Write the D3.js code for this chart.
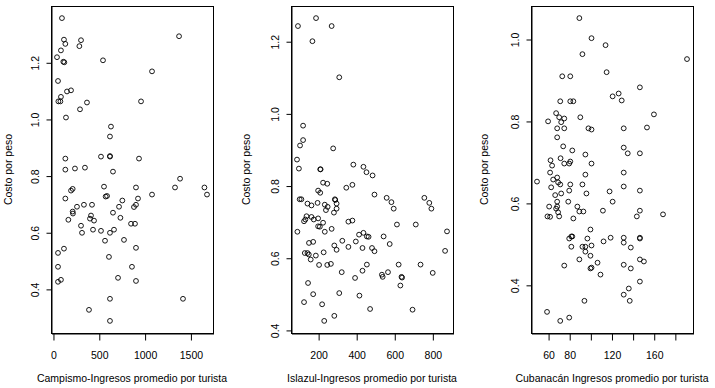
<!DOCTYPE html>
<html>
<head>
<meta charset="utf-8">
<script src="https://cdn.jsdelivr.net/npm/d3@7"></script>
<style>
body { margin: 0; background: #fff; }
svg text { font-family: "Liberation Sans", Arial, sans-serif; font-size: 10.5px; fill: #000; }
</style>
</head>
<body>
<div id="chart"></div>
<script>
// values

var campismoX = [98, 120, 135, 87, 306, 288, 44, 113, 124, 546, 1376, 1081, 55, 153, 197, 87, 59, 81, 371, 295,
    961, 142, 633, 622, 524, 622, 622, 135, 939, 135, 240, 349, 655, 1387, 557, 906, 1332, 1653, 1681, 1081,
    197, 215, 575, 590, 135, 262, 338, 426, 721, 757, 928, 906, 884, 215, 218, 655, 415, 168, 404, 448,
    736, 306, 852, 895, 317, 437, 524, 622, 666, 568, 775, 55, 120, 906, 611, 55, 862, 55, 87, 710,
    906, 622, 1419, 393, 622];
var campismoY = [1.356, 1.280, 1.265, 1.242, 1.278, 1.257, 1.218, 1.202, 1.200, 1.207, 1.292, 1.168, 1.134, 1.097, 1.101, 1.078, 1.062, 1.062, 1.058, 1.034,
    1.062, 1.005, 0.973, 0.938, 0.867, 0.869, 0.867, 0.860, 0.860, 0.821, 0.825, 0.828, 0.814, 0.789, 0.761, 0.758, 0.758, 0.758, 0.733, 0.733,
    0.747, 0.753, 0.726, 0.728, 0.719, 0.690, 0.697, 0.697, 0.690, 0.712, 0.719, 0.697, 0.689, 0.673, 0.666, 0.669, 0.659, 0.644, 0.648, 0.641,
    0.651, 0.623, 0.630, 0.630, 0.598, 0.609, 0.605, 0.598, 0.609, 0.570, 0.573, 0.527, 0.542, 0.545, 0.513, 0.478, 0.478, 0.425, 0.432, 0.439,
    0.428, 0.365, 0.365, 0.326, 0.287];

var islazulX = [94, 189, 271, 170, 311, 121, 121, 105, 279, 89, 99, 211, 213, 385, 438, 454, 486, 226, 248, 348,
    380, 200, 211, 496, 560, 585, 597, 614, 713, 758, 784, 795, 103, 112, 144, 165, 197, 235, 250, 241,
    288, 290, 297, 297, 283, 139, 133, 126, 165, 177, 200, 226, 200, 209, 235, 271, 91, 359, 380, 415,
    438, 456, 465, 544, 327, 398, 285, 297, 359, 433, 483, 496, 576, 152, 174, 130, 144, 151, 161, 188,
    229, 205, 248, 267, 324, 394, 433, 456, 535, 539, 567, 623, 638, 641, 632, 147, 174, 126, 221, 311,
    417, 473, 232, 285, 877, 867, 738, 802, 696];
var islazulY = [1.242, 1.264, 1.242, 1.200, 1.100, 0.966, 0.926, 0.911, 0.903, 0.872, 0.847, 0.845, 0.845, 0.858, 0.852, 0.837, 0.828, 0.808, 0.805, 0.794,
    0.802, 0.786, 0.780, 0.775, 0.766, 0.754, 0.736, 0.692, 0.692, 0.766, 0.752, 0.736, 0.762, 0.762, 0.750, 0.745, 0.752, 0.747, 0.741, 0.732,
    0.762, 0.760, 0.750, 0.736, 0.725, 0.715, 0.706, 0.701, 0.713, 0.706, 0.709, 0.697, 0.687, 0.686, 0.672, 0.680, 0.672, 0.700, 0.703, 0.664,
    0.669, 0.659, 0.658, 0.659, 0.647, 0.645, 0.634, 0.622, 0.630, 0.627, 0.627, 0.618, 0.638, 0.641, 0.644, 0.613, 0.613, 0.609, 0.595, 0.606,
    0.615, 0.580, 0.580, 0.583, 0.560, 0.544, 0.564, 0.581, 0.553, 0.547, 0.560, 0.581, 0.547, 0.545, 0.523, 0.530, 0.499, 0.477, 0.471, 0.502,
    0.495, 0.458, 0.425, 0.439, 0.673, 0.619, 0.581, 0.558, 0.456];

var cubanacanX = [89.6, 101.1, 114.4, 92.5, 191.5, 115.4, 73.4, 81.0, 146.9, 126.8, 121.1, 129.7, 71.5, 81.0, 83.9, 160.2, 67.6, 70.5, 75.3, 90.5,
    60.0, 72.4, 68.6, 75.3, 98.2, 101.1, 131.6, 153.6, 68.6, 74.3, 131.6, 82.9, 95.3, 135.4, 146.9, 62.3, 71.8, 63.8, 75.3, 81.0,
    80.0, 101.1, 61.9, 95.3, 131.6, 49.5, 64.8, 68.6, 69.5, 71.5, 62.9, 81.0, 92.5, 131.6, 66.7, 72.4, 80.0, 96.3, 118.2, 146.9,
    68.6, 79.1, 121.1, 61.0, 87.7, 67.6, 68.6, 89.6, 93.4, 69.5, 111.9, 146.9, 59.4, 61.9, 70.5, 83.9, 144.0, 168.8, 100.1, 80.0,
    82.0, 82.9, 97.2, 119.2, 131.6, 131.6, 146.9, 146.9, 112.5, 82.0, 92.5, 95.3, 101.1, 95.3, 138.3, 100.1, 89.6, 106.8, 75.3, 101.1,
    100.1, 131.6, 138.3, 146.9, 150.7, 109.6, 146.9, 136.4, 131.6, 137.3, 94.4, 59.0, 80.0, 71.5];
var cubanacanY = [1.051, 1.002, 0.985, 0.963, 0.951, 0.919, 0.909, 0.909, 0.882, 0.867, 0.860, 0.850, 0.848, 0.848, 0.848, 0.816, 0.819, 0.809, 0.806, 0.809,
    0.799, 0.797, 0.782, 0.782, 0.782, 0.779, 0.782, 0.784, 0.760, 0.738, 0.735, 0.728, 0.718, 0.721, 0.721, 0.704, 0.709, 0.691, 0.696, 0.701,
    0.696, 0.696, 0.674, 0.669, 0.674, 0.652, 0.657, 0.662, 0.650, 0.645, 0.638, 0.645, 0.645, 0.640, 0.619, 0.623, 0.630, 0.623, 0.628, 0.630,
    0.603, 0.603, 0.603, 0.591, 0.591, 0.586, 0.591, 0.579, 0.579, 0.577, 0.581, 0.581, 0.567, 0.566, 0.567, 0.562, 0.567, 0.572, 0.535, 0.513,
    0.518, 0.518, 0.513, 0.515, 0.515, 0.503, 0.515, 0.513, 0.506, 0.493, 0.493, 0.493, 0.496, 0.481, 0.491, 0.471, 0.462, 0.454, 0.447, 0.442,
    0.440, 0.449, 0.440, 0.462, 0.457, 0.425, 0.408, 0.391, 0.376, 0.361, 0.361, 0.334, 0.320, 0.312];

var campismoXTicks = [0, 500, 1000, 1500];
var islazulXTicks = [200, 400, 600, 800];
var cubanacanXTicks = [60, 80, 100, 120, 140, 160, 180];
var cubanacanXLabels = [60, 80, 120, 160];   // R drops the labels that would overlap
var campismoYTicks = [0.4, 0.6, 0.8, 1.0, 1.2];
var islazulYTicks = [0.4, 0.6, 0.8, 1.0, 1.2];
var cubanacanYTicks = [0.4, 0.6, 0.8, 1.0];

var xTitles = ["Campismo-Ingresos promedio por turista", "Islazul-Ingresos promedio por turista", "Cubanacán Ingresos promedio por turista"];
var yTitle = "Costo por peso";


var width = 715, height = 388;
var boxTop = 6, boxBottom = 333, boxWidth = 162;

var svg = d3.select("#chart").append("svg").attr("width", width).attr("height", height);
svg.append("rect").attr("width", width).attr("height", height).attr("fill", "#fff");

// R pads the data range by 4% on each side
function rDomain(vals) {
    var e = d3.extent(vals), pad = (e[1] - e[0]) * 0.04;
    return [e[0] - pad, e[1] + pad];
}

var panels = [
    {xs: campismoX, ys: campismoY, xTicks: campismoXTicks, xLabels: campismoXTicks, yTicks: campismoYTicks, left: 51, figLeft: 0},
    {xs: islazulX, ys: islazulY, xTicks: islazulXTicks, xLabels: islazulXTicks, yTicks: islazulYTicks, left: 291, figLeft: 238},
    {xs: cubanacanX, ys: cubanacanY, xTicks: cubanacanXTicks, xLabels: cubanacanXLabels, yTicks: cubanacanYTicks, left: 531, figLeft: 476}
];

panels.forEach(function(p, i) {
    var x = d3.scaleLinear().domain(rDomain(p.xs)).range([p.left, p.left + boxWidth]);
    var y = d3.scaleLinear().domain(rDomain(p.ys)).range([boxBottom, boxTop]);

    var g = svg.append("g");

    g.selectAll(".pt")
        .data(d3.range(p.xs.length))
        .enter()
        .append("circle")
        .attr("class", "pt")
        .attr("cx", function(k) { return x(p.xs[k]); })
        .attr("cy", function(k) { return y(p.ys[k]); })
        .attr("r", 2.4)
        .attr("fill", "none")
        .attr("stroke", "#000")
        .attr("stroke-width", 0.9);

    g.append("rect")
        .attr("x", p.left + 0.5)
        .attr("y", boxTop + 0.5)
        .attr("width", boxWidth)
        .attr("height", boxBottom - boxTop)
        .attr("fill", "none")
        .attr("stroke", "#000");

    var xAxis = g.append("g")
        .attr("transform", "translate(0.5," + (boxBottom + 0.5) + ")")
        .call(d3.axisBottom(x).tickValues(p.xTicks).tickSize(7).tickSizeOuter(0)
            .tickFormat(function(d) { return p.xLabels.indexOf(d) >= 0 ? d : ""; }));
    xAxis.selectAll("text").attr("y", 25).attr("dy", 0);

    var yAxis = g.append("g")
        .attr("transform", "translate(" + (p.left + 0.5) + ",0.5)")
        .call(d3.axisLeft(y).tickValues(p.yTicks).tickSize(5).tickSizeOuter(0).tickFormat(d3.format(".1f")));
    yAxis.selectAll("text")
        .attr("transform", "rotate(-90)")
        .attr("x", 0)
        .attr("y", -12.5)
        .attr("dy", 0)
        .style("text-anchor", "middle");

    g.append("text")
        .attr("x", p.left + boxWidth / 2)
        .attr("y", 382)
        .attr("text-anchor", "middle")
        .text(xTitles[i]);

    g.append("text")
        .attr("transform", "translate(" + (p.figLeft + 12) + "," + ((boxTop + boxBottom) / 2) + ") rotate(-90)")
        .attr("text-anchor", "middle")
        .text(yTitle);
});
</script>
</body>
</html>
